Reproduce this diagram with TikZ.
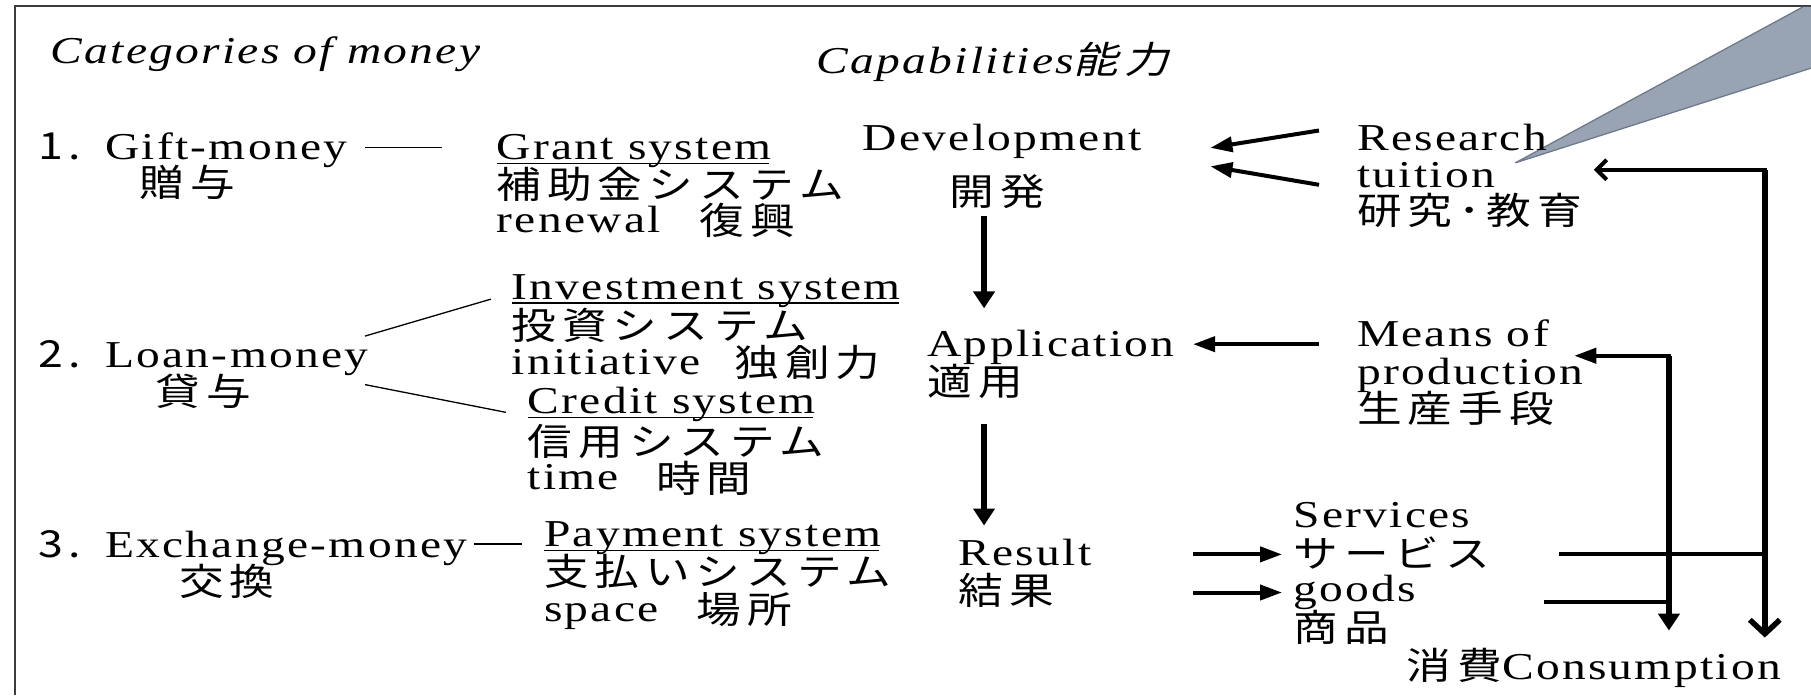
\documentclass[tikz,border=0pt]{standalone}
\usepackage{fontspec}
\setmainfont[FakeStretch=1.25,LetterSpace=6]{Liberation Serif}
\newfontfamily\jp[FakeStretch=1.2,LetterSpace=16,Scale=0.98]{Noto Sans CJK JP}
\newfontfamily\jpit[FakeStretch=1.2,FakeSlant=0.25,LetterSpace=16,Scale=0.98]{Noto Sans CJK JP}
\usetikzlibrary{arrows.meta}
\newcommand{\numsp}{\hspace*{24pt}}
\definecolor{callfill}{RGB}{152,164,180}
\definecolor{callline}{RGB}{110,122,138}
\definecolor{framec}{RGB}{60,60,60}
\begin{document}
\begin{tikzpicture}[x=1.155pt,y=-1.155pt,
  lbl/.style={anchor=base west,inner sep=0pt,outer sep=0pt,font=\fontsize{38}{40}\selectfont},
  jlbl/.style={lbl,font=\fontsize{38}{40}\selectfont\jp},
  conn/.style={line width=1.3pt},
  hthick/.style={line width=4pt},
  vthick/.style={line width=5.5pt},
  htri/.style={-{Triangle[length=22pt,width=15pt]}},
  vtri/.style={-{Triangle[length=17pt,width=21pt]}},
  hbarb/.style={-{Straight Barb[length=10pt,width=20pt]}},
  vbarb/.style={-{Straight Barb[length=14pt,width=30pt]}},
  ul/.style={line width=1.5pt}
]
\useasboundingbox (0,0) rectangle (1568,602);
% frame
\draw[framec,line width=1.5pt] (13,602) -- (13,5) -- (1568,5);
% callout
\fill[callfill] (1312,141) -- (1561,6) -- (1568,6) -- (1568,59) -- cycle;
\draw[callline,line width=1.3pt] (1568,59) -- (1312,141) -- (1561,6);

% titles
\node[lbl,font=\fontsize{38}{40}\selectfont\itshape] (cat) at (44,55) {Categories of money};
\node[lbl,font=\fontsize{38}{40}\selectfont\itshape] (cap) at (707,64) {Capabilities{\jpit 能力}};

% row 1
\node[lbl] (gift) at (33,138) {{\jp 1.}\numsp Gift-money};
\node[jlbl] (giftj) at (121,170) {贈与};
\node[lbl] (grant) at (430,138) {Grant system};
\node[jlbl] (grantj) at (430,172) {補助金システム};
\node[lbl] (renew) at (430,201) {renewal};
\node[jlbl] (renewj) at (606,203) {復興};
\node[lbl] (dev) at (747,130) {Development};
\node[jlbl] (devj) at (822,178) {開発};
\node[lbl] (res) at (1175,130) {Research};
\node[lbl] (tui) at (1175,162) {tuition};
\node[jlbl] (resj) at (1175,194) {研究･教育};

% row 2
\node[lbl] (loan) at (33,318) {{\jp 2.}\numsp Loan-money};
\node[jlbl] (loanj) at (135,351) {貸与};
\node[lbl] (inv) at (443,259) {Investment system};
\node[jlbl] (invj) at (443,294) {投資システム};
\node[lbl] (init) at (443,324) {initiative};
\node[jlbl] (initj) at (636,326) {独創力};
\node[lbl] (cred) at (457,358) {Credit system};
\node[jlbl] (credj) at (457,394) {信用システム};
\node[lbl] (time) at (457,424) {time};
\node[jlbl] (timej) at (568,426) {時間};
\node[lbl] (app) at (803,309) {Application};
\node[jlbl] (appj) at (803,342) {適用};
\node[lbl] (means) at (1175,300) {Means of};
\node[lbl] (prod) at (1175,333) {production};
\node[jlbl] (prodj) at (1175,366) {生産手段};

% row 3
\node[lbl] (exch) at (33,483) {{\jp 3.}\numsp Exchange-money};
\node[jlbl] (exchj) at (155,516) {交換};
\node[lbl] (pay) at (471,473) {Payment system};
\node[jlbl] (payj) at (471,507) {支払いシステム};
\node[lbl] (space) at (471,538) {space};
\node[jlbl] (spacej) at (603,540) {場所};
\node[lbl] (result) at (830,490) {Result};
\node[jlbl] (resultj) at (830,523) {結果};
\node[lbl] (serv) at (1120,457) {Services};
\node[jlbl] (servj) at (1120,491) {サービス};
\node[lbl] (goods) at (1120,521) {goods};
\node[jlbl] (goodsj) at (1120,555) {商品};
\node[lbl] (cons) at (1218,588) {{\jp 消費}Consumption};

% underlines
\draw[ul] ([yshift=-4pt]grant.base west) -- ([xshift=-2pt,yshift=-4pt]grant.base east);
\draw[ul] ([yshift=-4pt]inv.base west) -- ([xshift=-2pt,yshift=-4pt]inv.base east);
\draw[ul] ([yshift=-4pt]cred.base west) -- ([xshift=-2pt,yshift=-4pt]cred.base east);
\draw[ul] ([yshift=-4pt]pay.base west) -- ([xshift=-2pt,yshift=-4pt]pay.base east);

% connector end points
\coordinate (g1) at (316,128); \coordinate (g2) at (383,128);
\coordinate (l1) at (316,291); \coordinate (l2) at (425,259);
\coordinate (l3) at (316,333); \coordinate (l4) at (438,357);
\coordinate (e1) at (410,471); \coordinate (e2) at (452,471);
\coordinate (d1) at (852,187); \coordinate (d2) at (852,267);
\coordinate (d3) at (852,367); \coordinate (d4) at (852,455);
\coordinate (r1) at (1142,113); \coordinate (r2) at (1048,128);
\coordinate (r3) at (1142,160); \coordinate (r4) at (1048,144);
\coordinate (m1) at (1142,298); \coordinate (m2) at (1033,298);
\coordinate (s1) at (1033,480); \coordinate (s2) at (1110,480);
\coordinate (s3) at (1033,513); \coordinate (s4) at (1110,513);
\coordinate (sv) at (1350,480); \coordinate (gd) at (1337,521);
\coordinate (ic) at (1445,308); \coordinate (it) at (1363,308);
\coordinate (ib) at (1445,546); \coordinate (ig) at (1445,521);
\coordinate (oc) at (1528,147); \coordinate (ot) at (1380,147);
\coordinate (ob) at (1528,552); \coordinate (os) at (1528,480);

% thin connectors
\draw[conn] (g1) -- (g2);
\draw[conn] (l1) -- (l2);
\draw[conn] (l3) -- (l4);
\draw[conn] (e1) -- (e2);

% main arrows
\draw[vthick,vtri] (d1) -- (d2);
\draw[vthick,vtri] (d3) -- (d4);
\draw[hthick,htri] (r1) -- (r2);
\draw[hthick,htri] (r3) -- (r4);
\draw[hthick,htri] (m1) -- (m2);
\draw[hthick,htri] (s1) -- (s2);
\draw[hthick,htri] (s3) -- (s4);

% consumption lines
\draw[hthick] (sv) -- (os);
\draw[hthick] (gd) -- (ig);
% inner loop
\draw[vthick,vtri] (ic) -- (ib);
\draw[hthick,htri] ([xshift=2.5pt]ic) -- (it);
% outer loop
\draw[vthick,vbarb] (oc) -- (ob);
\draw[hthick,hbarb] ([xshift=2.5pt]oc) -- (ot);
\end{tikzpicture}
\end{document}
